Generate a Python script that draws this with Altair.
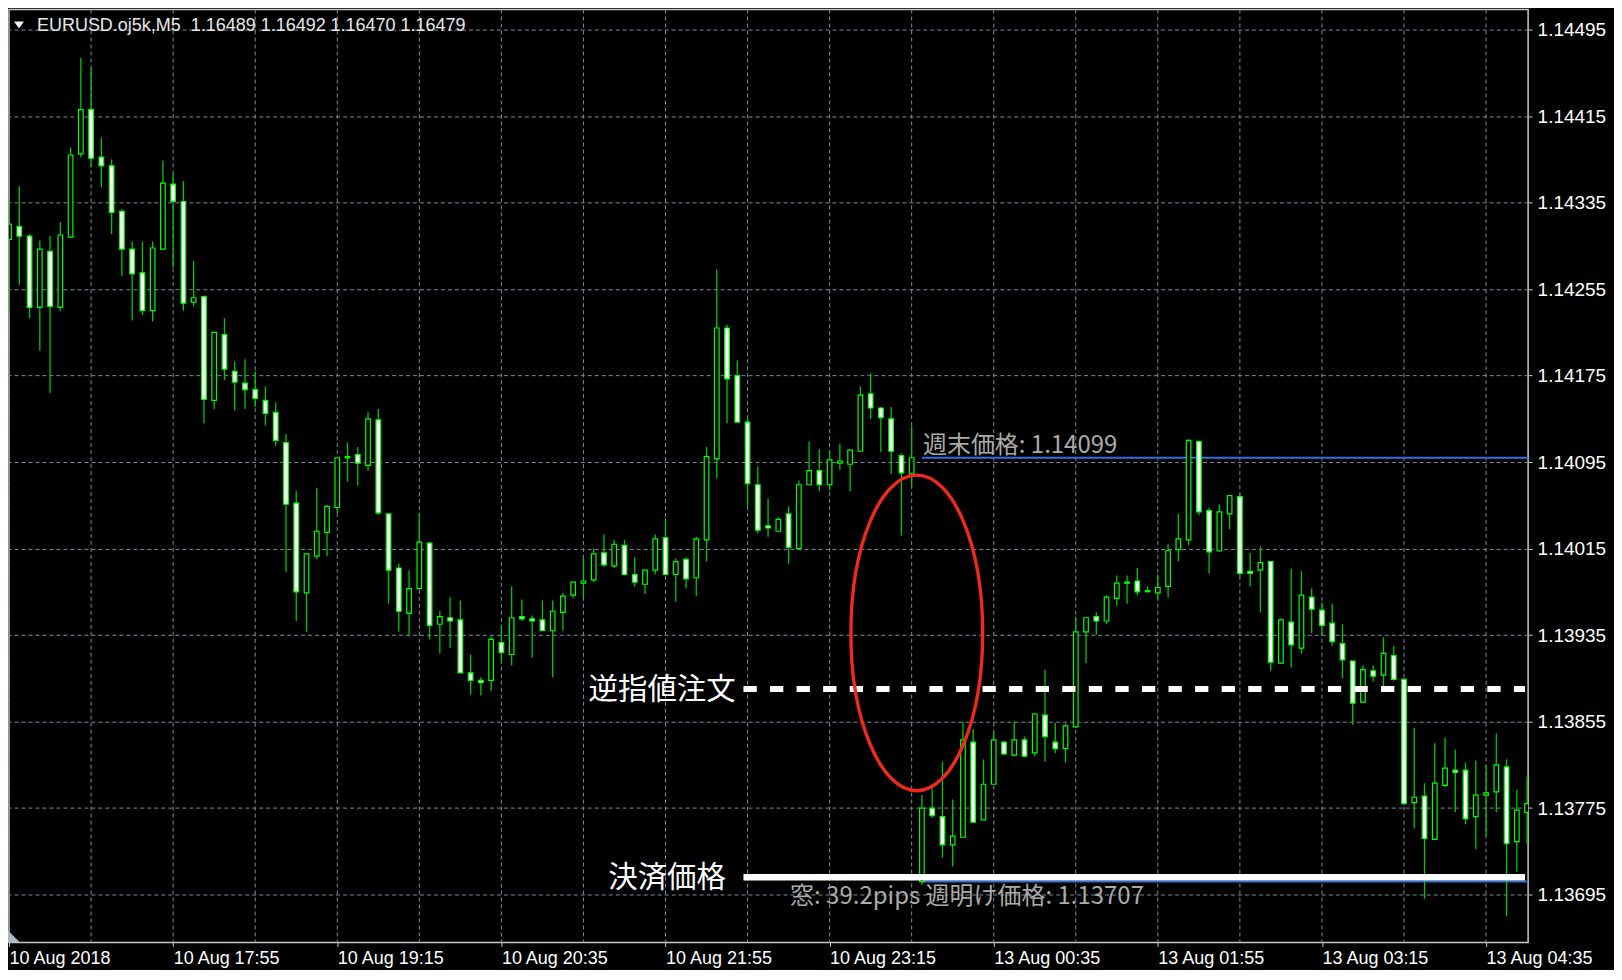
import altair as alt
import pandas as pd

# ---------------- data (EURUSD M5) ----------------
opens = [1.14301, 1.14313, 1.14304, 1.14238, 1.14290, 1.14238, 1.14303, 1.14380, 1.14421, 1.14377,
         1.14369, 1.14327, 1.14292, 1.14270, 1.14235, 1.14292, 1.14352, 1.14336, 1.14243, 1.14248,
         1.14152, 1.14213, 1.14179, 1.14168, 1.14162, 1.14152, 1.14141, 1.14113, 1.14057, 1.13974,
         1.14008, 1.14030, 1.14053, 1.14099, 1.14102, 1.14092, 1.14134, 1.14047, 1.13997, 1.13955,
         1.13978, 1.14020, 1.13945, 1.13951, 1.13949, 1.13900, 1.13893, 1.13893, 1.13928, 1.13917,
         1.13952, 1.13950, 1.13949, 1.13939, 1.13956, 1.13972, 1.13983, 1.13986, 1.14011, 1.13999,
         1.14018, 1.13991, 1.13982, 1.13995, 1.14025, 1.13991, 1.14005, 1.13988, 1.14023, 1.14098,
         1.14219, 1.14175, 1.14132, 1.14074, 1.14036, 1.14031, 1.14047, 1.14015, 1.14074, 1.14087,
         1.14074, 1.14094, 1.14093, 1.14105, 1.14158, 1.14145, 1.14135, 1.14101, 1.14084,
         1.13707, 1.13775, 1.13767, 1.13741, 1.13748, 1.13836, 1.13764, 1.13797, 1.13836, 1.13824,
         1.13838, 1.13826, 1.13861, 1.13836, 1.13830, 1.13850, 1.13938, 1.13952, 1.13948, 1.13969,
         1.13984, 1.13985, 1.13976, 1.13974, 1.13980, 1.14014, 1.14023, 1.14114, 1.14050, 1.14013,
         1.14047, 1.14063, 1.13994, 1.13995, 1.14003, 1.13909, 1.13947, 1.13923, 1.13970, 1.13958,
         1.13946, 1.13927, 1.13911, 1.13873, 1.13902, 1.13898, 1.13916, 1.13894, 1.13780, 1.13786,
         1.13746, 1.13796, 1.13810, 1.13810, 1.13767, 1.13787, 1.13790, 1.13813, 1.13744, 1.13771]
highs = [1.14337, 1.14350, 1.14306, 1.14300, 1.14304, 1.14317, 1.14386, 1.14469, 1.14460, 1.14395,
         1.14375, 1.14329, 1.14299, 1.14299, 1.14299, 1.14374, 1.14362, 1.14355, 1.14281, 1.14249,
         1.14215, 1.14228, 1.14188, 1.14190, 1.14179, 1.14165, 1.14150, 1.14121, 1.14068, 1.14010,
         1.14071, 1.14055, 1.14099, 1.14113, 1.14109, 1.14141, 1.14144, 1.14047, 1.14001, 1.13995,
         1.14048, 1.14021, 1.13957, 1.13970, 1.13967, 1.13917, 1.13896, 1.13934, 1.13944, 1.13980,
         1.13968, 1.13953, 1.13967, 1.13967, 1.13974, 1.13984, 1.14006, 1.14015, 1.14028, 1.14023,
         1.14023, 1.14007, 1.13995, 1.14028, 1.14043, 1.14006, 1.14007, 1.14026, 1.14109, 1.14273,
         1.14222, 1.14189, 1.14136, 1.14091, 1.14061, 1.14044, 1.14054, 1.14078, 1.14114, 1.14107,
         1.14106, 1.14112, 1.14106, 1.14165, 1.14177, 1.14146, 1.14146, 1.14103, 1.14128,
         1.13787, 1.13793, 1.13818, 1.13783, 1.13855, 1.13848, 1.13820, 1.13845, 1.13837, 1.13855,
         1.13841, 1.13863, 1.13903, 1.13854, 1.13853, 1.13952, 1.13951, 1.13956, 1.13972, 1.13990,
         1.13990, 1.13997, 1.13980, 1.13991, 1.14019, 1.14047, 1.14116, 1.14115, 1.14053, 1.14056,
         1.14064, 1.14066, 1.14011, 1.14017, 1.14003, 1.13950, 1.13996, 1.13994, 1.13978, 1.13965,
         1.13964, 1.13945, 1.13911, 1.13907, 1.13907, 1.13933, 1.13925, 1.13895, 1.13849, 1.13798,
         1.13835, 1.13840, 1.13829, 1.13817, 1.13819, 1.13815, 1.13844, 1.13820, 1.13792, 1.13804]
lows = [1.14235, 1.14259, 1.14228, 1.14198, 1.14159, 1.14235, 1.14303, 1.14377, 1.14368, 1.14349,
        1.14306, 1.14267, 1.14226, 1.14231, 1.14225, 1.14292, 1.14275, 1.14235, 1.14239, 1.14131,
        1.14144, 1.14171, 1.14143, 1.14144, 1.14146, 1.14129, 1.14110, 1.13993, 1.13948, 1.13938,
        1.14005, 1.14008, 1.14048, 1.14077, 1.14073, 1.14087, 1.14046, 1.13964, 1.13938, 1.13934,
        1.13978, 1.13931, 1.13918, 1.13923, 1.13900, 1.13880, 1.13879, 1.13883, 1.13910, 1.13907,
        1.13948, 1.13914, 1.13939, 1.13896, 1.13939, 1.13969, 1.13969, 1.13984, 1.13998, 1.13997,
        1.13990, 1.13980, 1.13973, 1.13991, 1.13991, 1.13966, 1.13978, 1.13971, 1.14003, 1.14080,
        1.14131, 1.14132, 1.14054, 1.14029, 1.14026, 1.14030, 1.14001, 1.14014, 1.14074, 1.14068,
        1.14069, 1.14088, 1.14068, 1.14105, 1.14135, 1.14104, 1.14084, 1.14027, 1.14072,
        1.13704, 1.13766, 1.13729, 1.13721, 1.13748, 1.13761, 1.13764, 1.13797, 1.13824, 1.13823,
        1.13822, 1.13823, 1.13818, 1.13826, 1.13817, 1.13849, 1.13909, 1.13935, 1.13945, 1.13962,
        1.13964, 1.13972, 1.13975, 1.13968, 1.13970, 1.14003, 1.14018, 1.14046, 1.13992, 1.14012,
        1.14033, 1.13989, 1.13980, 1.13956, 1.13902, 1.13909, 1.13905, 1.13918, 1.13937, 1.13934,
        1.13925, 1.13895, 1.13852, 1.13872, 1.13892, 1.13888, 1.13893, 1.13778, 1.13756, 1.13691,
        1.13746, 1.13794, 1.13771, 1.13760, 1.13737, 1.13749, 1.13771, 1.13675, 1.13716, 1.13742]
closes = [1.14315, 1.14304, 1.14238, 1.14292, 1.14239, 1.14305, 1.14379, 1.14421, 1.14376, 1.14369,
          1.14326, 1.14292, 1.14269, 1.14235, 1.14293, 1.14353, 1.14336, 1.14242, 1.14247, 1.14153,
          1.14215, 1.14181, 1.14169, 1.14162, 1.14154, 1.14140, 1.14115, 1.14056, 1.13975, 1.14010,
          1.14031, 1.14054, 1.14099, 1.14100, 1.14094, 1.14135, 1.14048, 1.13995, 1.13957, 1.13978,
          1.14021, 1.13944, 1.13952, 1.13948, 1.13900, 1.13893, 1.13891, 1.13931, 1.13919, 1.13951,
          1.13950, 1.13948, 1.13939, 1.13957, 1.13971, 1.13984, 1.13985, 1.14010, 1.14000, 1.14019,
          1.13991, 1.13984, 1.13995, 1.14024, 1.13991, 1.14003, 1.13987, 1.14024, 1.14100, 1.14219,
          1.14172, 1.14132, 1.14075, 1.14032, 1.14034, 1.14042, 1.14016, 1.14074, 1.14087, 1.14074,
          1.14097, 1.14096, 1.14106, 1.14157, 1.14145, 1.14136, 1.14105, 1.14085, 1.14099,
          1.13775, 1.13768, 1.13741, 1.13749, 1.13838, 1.13762, 1.13797, 1.13838, 1.13825, 1.13838,
          1.13823, 1.13862, 1.13841, 1.13830, 1.13851, 1.13938, 1.13951, 1.13948, 1.13970, 1.13983,
          1.13983, 1.13975, 1.13975, 1.13979, 1.14013, 1.14024, 1.14115, 1.14049, 1.14012, 1.14049,
          1.14064, 1.13992, 1.13992, 1.14002, 1.13910, 1.13949, 1.13926, 1.13972, 1.13959, 1.13944,
          1.13929, 1.13912, 1.13872, 1.13903, 1.13897, 1.13918, 1.13894, 1.13779, 1.13785, 1.13747,
          1.13798, 1.13812, 1.13808, 1.13765, 1.13787, 1.13789, 1.13815, 1.13742, 1.13773, 1.13779]

x_tick_bars = [0, 16, 32, 48, 64, 80, 96, 112, 128, 144]
x_tick_labels = ["10 Aug 2018", "10 Aug 17:55", "10 Aug 19:15", "10 Aug 20:35", "10 Aug 21:55",
                 "10 Aug 23:15", "13 Aug 00:35", "13 Aug 01:55", "13 Aug 03:15", "13 Aug 04:35"]
x_grid_bars = [0, 8, 16, 24, 32, 40, 48, 56, 64, 72, 80, 88, 96, 104, 112, 120, 128, 136, 144]
price_ticks = [1.13695, 1.13775, 1.13855, 1.13935, 1.14015, 1.14095,
               1.14175, 1.14255, 1.14335, 1.14415, 1.14495]

header_text = "EURUSD.oj5k,M5\u00a0 1.16489 1.16492 1.16470 1.16479"
weekend_close = 1.14099          # 週末価格
week_open = 1.13707              # 週明け価格
stop_order_price = 1.13885       # 逆指値注文
settle_price = 1.13711           # 決済価格
first_monday_bar = 89
order_line_start = 71.6
line_end_bar = 147.8
ellipse_center = (88.5, 1.13937)

# ---------------- layout / style ----------------
PLOT_W, PLOT_H = 1521, 934
X_DOMAIN = [-0.005, 148.1]
Y_DOMAIN = [1.136507, 1.145135]
GRID = "#7a8c9e"
LIME = "#00ff00"
WICK = "#00c800"
BLUE = "#2f6fe4"
LABEL_FONT = "Liberation Sans"
JP_FONT = "Noto Sans CJK JP"

xs = alt.Scale(domain=X_DOMAIN, nice=False, zero=False, padding=0)
ys = alt.Scale(domain=Y_DOMAIN, nice=False, zero=False, padding=0)

label_expr = "[" + ",".join("'%s'" % s for s in x_tick_labels) + "][round(datum.value / 16)]"
AX_X = alt.Axis(values=x_tick_bars, labelExpr=label_expr, grid=False, domain=False,
                tickColor="#c8c8c8", tickSize=4, labelColor="#ffffff", labelFont=LABEL_FONT,
                labelFontSize=18, labelAlign="left", labelBaseline="top", labelPadding=3,
                labelOverlap=False, labelFlush=False, labelBound=False, title="")
AX_Y = alt.Axis(values=price_ticks, format=".5f", orient="right", grid=True, gridColor=GRID,
                gridDash=[4, 3], gridWidth=1, domain=False, tickColor="#c8c8c8", tickSize=4,
                labelColor="#ffffff", labelFont=LABEL_FONT, labelFontSize=19, labelPadding=5,
                labelAlign="left", labelBaseline="middle", labelOverlap=False, labelFlush=False,
                title="")

n = len(opens)
candles = pd.DataFrame({
    "i": list(range(n)), "o": opens, "h": highs, "l": lows, "c": closes,
})
candles["fill"] = ["#000000" if c >= o else "#ffffff" for o, c in zip(opens, closes)]

grid_df = pd.DataFrame({"g": x_grid_bars})
blue_df = pd.DataFrame({"xs": [first_monday_bar, first_monday_bar],
                        "xe": [X_DOMAIN[1], X_DOMAIN[1]],
                        "p": [weekend_close, week_open]})
dash_df = pd.DataFrame({"xs": [order_line_start], "xe": [line_end_bar], "p": [stop_order_price]})
settle_df = pd.DataFrame({"xs": [order_line_start], "xe": [line_end_bar], "p": [settle_price]})

base = alt.Chart(candles)

vgrid = alt.Chart(grid_df).mark_rule(color=GRID, strokeDash=[4, 3], strokeWidth=1).encode(
    x=alt.X("g:Q", scale=xs, axis=AX_X))

blue_lines = alt.Chart(blue_df).mark_rule(color=BLUE, strokeWidth=2, clip=True).encode(
    x=alt.X("xs:Q", scale=xs, axis=AX_X), x2="xe:Q",
    y=alt.Y("p:Q", scale=ys, axis=AX_Y))

wicks = base.mark_rule(color=WICK, strokeWidth=1.3, clip=True).encode(
    x=alt.X("i:Q", scale=xs, axis=AX_X),
    y=alt.Y("l:Q", scale=ys, axis=AX_Y), y2="h:Q")

bodies = base.mark_bar(size=4.6, stroke=LIME, strokeWidth=1.2, clip=True).encode(
    x=alt.X("i:Q", scale=xs, axis=AX_X),
    y=alt.Y("o:Q", scale=ys, axis=AX_Y), y2="c:Q",
    fill=alt.Fill("fill:N", scale=None))

stop_line = alt.Chart(dash_df).mark_rule(color="#ffffff", strokeWidth=6,
                                         strokeDash=[13.3, 13.3], clip=True).encode(
    x=alt.X("xs:Q", scale=xs, axis=AX_X), x2="xe:Q",
    y=alt.Y("p:Q", scale=ys, axis=AX_Y))

settle_line = alt.Chart(settle_df).mark_rule(color="#ffffff", strokeWidth=6.7, clip=True).encode(
    x=alt.X("xs:Q", scale=xs, axis=AX_X), x2="xe:Q",
    y=alt.Y("p:Q", scale=ys, axis=AX_Y))

texts_df = pd.DataFrame({
    "x": [89.1, 76.15],
    "p": [weekend_close, week_open],
    "t": ["週末価格: %.5f" % weekend_close, "窓: 39.2pips 週明け価格: %.5f" % week_open],
})
note_top = alt.Chart(texts_df.iloc[[0]]).mark_text(
    font=JP_FONT, fontSize=24, color="#aaaaaa", align="left", baseline="alphabetic", dy=-5).encode(
    x=alt.X("x:Q", scale=xs, axis=AX_X), y=alt.Y("p:Q", scale=ys, axis=AX_Y), text="t:N")
note_bottom = alt.Chart(texts_df.iloc[[1]]).mark_text(
    font=JP_FONT, fontSize=24, color="#aaaaaa", align="left", baseline="alphabetic", dy=22).encode(
    x=alt.X("x:Q", scale=xs, axis=AX_X), y=alt.Y("p:Q", scale=ys, axis=AX_Y), text="t:N")

big_df = pd.DataFrame({"x": [70.85, 69.9], "p": [stop_order_price, settle_price],
                       "t": ["逆指値注文", "決済価格"]})
big_labels = alt.Chart(big_df).mark_text(
    font=JP_FONT, fontSize=29.5, color="#ffffff", align="right", baseline="middle", dy=1).encode(
    x=alt.X("x:Q", scale=xs, axis=AX_X), y=alt.Y("p:Q", scale=ys, axis=AX_Y), text="t:N")

# red ellipse: rx 66px, ry 158px
RY = 158.0
RX_RATIO = 66.0 / RY
ell_path = ("M -{r} 0 A {r} 1 0 1 0 {r} 0 A {r} 1 0 1 0 -{r} 0 Z").format(r=round(RX_RATIO, 4))
ell_df = pd.DataFrame({"x": [ellipse_center[0]], "p": [ellipse_center[1]]})
ellipse = alt.Chart(ell_df).mark_point(shape=ell_path, size=(2 * RY) ** 2, filled=False,
                                       stroke="#ee2a1c", strokeWidth=3.4, opacity=1).encode(
    x=alt.X("x:Q", scale=xs, axis=AX_X), y=alt.Y("p:Q", scale=ys, axis=AX_Y))

hdr_df = pd.DataFrame({"t": [header_text]})
header = alt.Chart(hdr_df).mark_text(font=LABEL_FONT, fontSize=18, color="#e8e8e8",
                                     align="left", baseline="middle").encode(
    x=alt.value(28), y=alt.value(16), text="t:N")
header_tri = alt.Chart(hdr_df).mark_point(shape="M -1 -0.7 L 1 -0.7 L 0 0.7 Z", size=100,
                                          filled=True, color="#f0f0f0", opacity=1).encode(
    x=alt.value(10), y=alt.value(15.5))
corner_tri = alt.Chart(hdr_df).mark_point(shape="M -1 -1 L -1 1 L 1 1 Z", size=144,
                                          filled=True, color="#a8b8c8", opacity=1).encode(
    x=alt.value(5), y=alt.value(928))

chart = alt.layer(
    vgrid, blue_lines, wicks, bodies, stop_line, settle_line,
    note_top, note_bottom, big_labels, ellipse, header_tri, header, corner_tri,
).properties(
    width=PLOT_W, height=PLOT_H,
    autosize=alt.AutoSizeParams(type="none"),
    padding={"left": 1, "top": 1, "right": 86, "bottom": 27},
    background="#000000",
).configure_view(
    fill="#000000", stroke="#c8c8c8", strokeWidth=1.5,
)

chart.save("out.html", embed_options={"renderer": "svg", "actions": False})
